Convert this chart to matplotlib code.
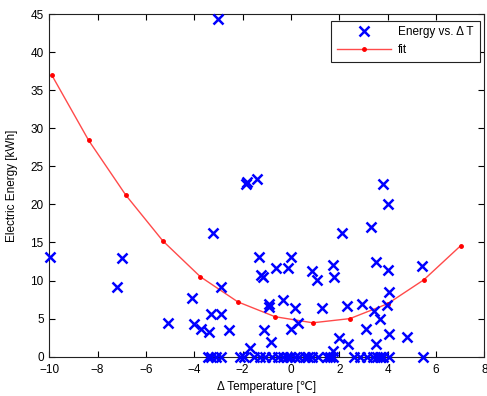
import matplotlib
matplotlib.use("Agg")
import matplotlib.pyplot as plt

plt.rcParams['font.family'] = ['Liberation Sans', 'DejaVu Sans']

# scatter data: delta T vs energy
dT = [-9.95, -7.2, -7.0, -5.1, -4.1, -4.0, -3.72, -3.39, -3.32, -3.21, -2.88, -2.9, -2.58,
      -3.0, -1.85, -1.8, -1.39, -1.32, 0.02, -0.62, -0.12, 0.88, 1.08, -1.22, -1.15,
      -0.9, -0.9, -0.32, 0.17, -1.1, 0.0, 0.3, -0.83, -1.7, 1.72, 1.79, 3.52, 4.0, 5.41,
      4.07, 1.3, 2.3, 2.92, 3.42, 3.98, 3.7, 3.09, 2.0, 2.38, 3.5, 4.05, 4.79, 1.72,
      3.79, 4.0, 3.3, 2.1]
energy = [13.1, 9.1, 12.9, 4.4, 7.75, 4.3, 3.68, 3.24, 5.6, 16.2, 5.6, 9.1, 3.5,
          44.3, 22.7, 23.0, 23.3, 13.1, 13.1, 11.6, 11.7, 11.3, 10.1, 10.7, 10.5,
          6.9, 6.5, 7.4, 6.4, 3.55, 3.68, 4.45, 1.97, 1.1, 12.1, 10.4, 12.4, 11.4, 11.95,
          8.55, 6.45, 6.7, 6.95, 6.0, 6.8, 4.95, 3.65, 2.5, 1.68, 1.68, 3.0, 2.63, 0.78,
          22.7, 20.0, 17.0, 16.2]
dT_zero = [-3.45, -3.3, -3.1, -2.9, -2.1, -1.95, -1.55, -1.3, -1.08, -0.8, -0.55, -0.32,
           -0.18, -0.05, 0.15, 0.35, 0.6, 0.72, 0.85, 1.1, 1.5, 1.6, 1.75, 2.6, 2.85,
           3.15, 3.38, 3.55, 3.7, 3.82, 4.05, 5.45]
energy_zero = [0.0] * len(dT_zero)

# fit curve
fit_x = [-9.9, -8.37, -6.83, -5.30, -3.75, -2.2, -0.66, 0.9, 2.44, 4.0, 5.5, 7.03]
fit_y = [37.0, 28.4, 21.2, 15.2, 10.5, 7.2, 5.25, 4.45, 5.0, 6.95, 10.1, 14.6]

xticks = [-10, -8, -6, -4, -2, 0, 2, 4, 6, 8]
yticks = [0, 5, 10, 15, 20, 25, 30, 35, 40, 45]

fig = plt.figure(figsize=(4.87, 3.96), dpi=100)
ax = fig.add_axes([0.1012, 0.0993, 0.8933, 0.8653])

ax.plot(dT + dT_zero, energy + energy_zero, linestyle='none', marker='x',
        color='#0000ff', markersize=7, markeredgewidth=1.8,
        label='Energy vs. \u0394 T', clip_on=False, zorder=3)
ax.plot(fit_x, fit_y, color='#ff4a4a', linewidth=1.0, marker='.',
        markersize=5, markerfacecolor='#ff0000', markeredgecolor='#ff0000',
        label='fit', zorder=2)

ax.set_xlim(-10, 8)
ax.set_ylim(0, 45)
ax.set_xticks(xticks)
ax.set_yticks(yticks)
ax.tick_params(direction='in', top=True, right=True, length=4, width=0.8,
               labelsize=8.5)
ax.tick_params(axis='x', pad=5)
ax.tick_params(axis='y', pad=4)
for s in ax.spines.values():
    s.set_linewidth(0.8)
    s.set_color('#222222')

ax.set_xlabel('\u0394 Temperature [\u2103]', fontsize=8.5, labelpad=4,
              family=['Liberation Sans', 'DejaVu Sans'])
ax.set_ylabel('Electric Energy [kWh]', fontsize=8.5, labelpad=9)

leg = ax.legend(loc='upper right', bbox_to_anchor=(0.9895, 0.981), fontsize=8.5,
                fancybox=False, framealpha=1, edgecolor='#222222',
                borderpad=0.5, handlelength=4.6, handletextpad=0.6,
                labelspacing=0.5, borderaxespad=0.0)
leg.get_frame().set_linewidth(0.8)

fig.savefig('out.png', dpi=100)
